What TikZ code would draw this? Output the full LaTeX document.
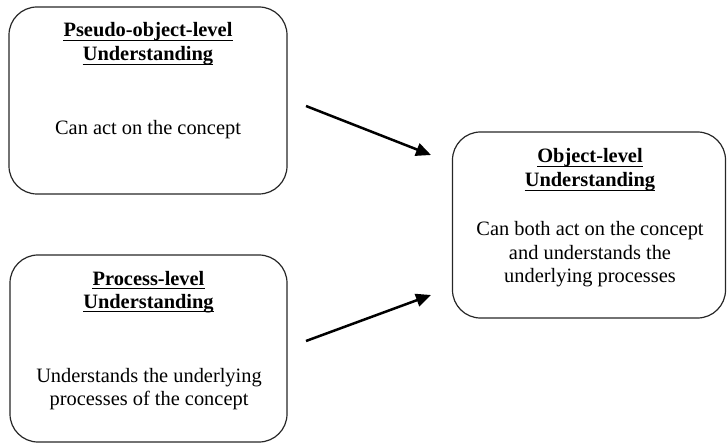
\documentclass[tikz,border=0pt]{standalone}
\usepackage{fontspec}
\setmainfont{Liberation Serif}
\usetikzlibrary{arrows.meta}
\begin{document}
\begin{tikzpicture}[x=1pt,y=-1pt,
  box/.style={draw=black!85, line width=1.2pt, rounded corners=28pt, inner sep=0pt, outer sep=0pt},
  txt/.style={anchor=base, inner sep=0pt, font=\fontsize{20.4}{24}\selectfont},
  hd/.style={anchor=base, inner sep=0pt, font=\fontsize{20.4}{24}\selectfont\bfseries},
  ul/.style={line width=1.1pt},
  arr/.style={line width=2.5pt, -{Triangle[length=15pt,width=13pt]}}]
\useasboundingbox (0,0) rectangle (727,443);
% boxes
\node[box, minimum width=278pt, minimum height=187pt] (b1) at (148,100.5) {};
\node[box, minimum width=277pt, minimum height=187pt] (b2) at (148.5,348.5) {};
\node[box, minimum width=273pt, minimum height=186pt] (b3) at (589,225) {};
% box 1 text
\node[hd] (h1a) at (148,37) {Pseudo-object-level};
\node[hd] (h1b) at (148,61) {Understanding};
\node[txt] (t1) at (148,135) {Can act on the concept};
% box 2 text
\node[hd] (h2a) at (148.5,285) {Process-level};
\node[hd] (h2b) at (148.5,308) {Understanding};
\node[txt] (t2a) at (149,382) {Understands the underlying};
\node[txt] (t2b) at (149,405) {processes of the concept};
% box 3 text
\node[hd] (h3a) at (590,163) {Object-level};
\node[hd] (h3b) at (590,187) {Understanding};
\node[txt] (t3a) at (590,236) {Can both act on the concept};
\node[txt] (t3b) at (590,259) {and understands the};
\node[txt] (t3c) at (590,282) {underlying processes};
% underlines
\foreach \n in {h1a,h1b,h2a,h2b,h3a,h3b}{
  \draw[ul] ([yshift=-3.5pt]\n.base west) -- ([yshift=-3.5pt]\n.base east);
}
% arrows
\coordinate (a1s) at (306,106);
\coordinate (a1e) at (431,155);
\coordinate (a2s) at (306,341);
\coordinate (a2e) at (431,295);
\draw[arr] (a1s) -- (a1e);
\draw[arr] (a2s) -- (a2e);
\end{tikzpicture}
\end{document}
